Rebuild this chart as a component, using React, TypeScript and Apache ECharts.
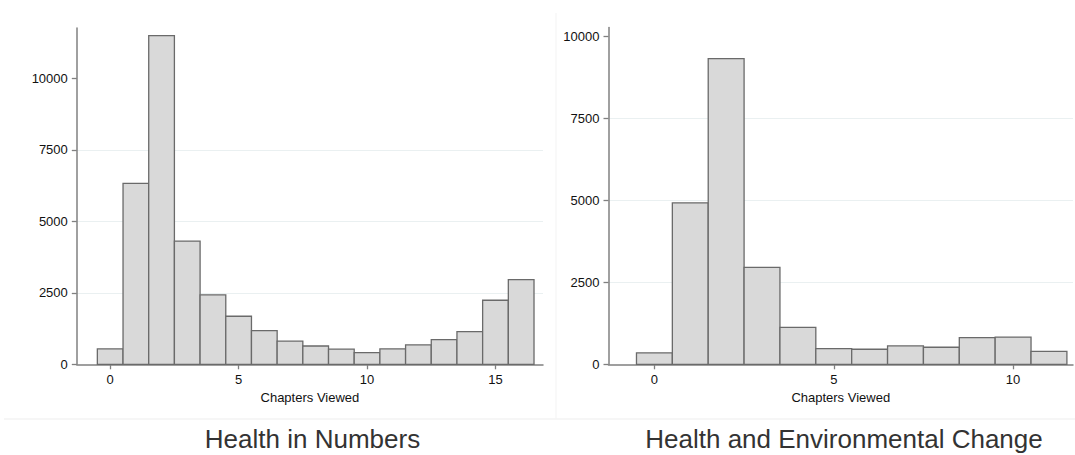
import React, { useEffect, useRef } from "react";
import * as echarts from "echarts";

const leftCategories = [0, 1, 2, 3, 4, 5, 6, 7, 8, 9, 10, 11, 12, 13, 14, 15, 16];
const leftValues = [540, 6330, 11490, 4310, 2430, 1680, 1180, 810, 640, 530, 410, 540, 680, 860, 1140, 2240, 2960];

const rightCategories = [0, 1, 2, 3, 4, 5, 6, 7, 8, 9, 10, 11];
const rightValues = [350, 4930, 9330, 2960, 1130, 480, 460, 560, 520, 815, 830, 397];

const yTicks = [0, 2500, 5000, 7500, 10000];
const leftXTicks = [0, 5, 10, 15];
const rightXTicks = [0, 5, 10];

const titles = ["Health in Numbers", "Health and Environmental Change"];
const xName = "Chapters Viewed";

const AXIS_FONT = "'Liberation Sans', Arial, Helvetica, sans-serif";

function barRender(params: any, api: any) {
  const x = api.value(0);
  const y = api.value(1);
  const p0 = api.coord([x - 0.5, y]);
  const p1 = api.coord([x + 0.5, 0]);
  return {
    type: "rect",
    shape: { x: p0[0], y: p0[1], width: p1[0] - p0[0], height: p1[1] - p0[1] },
    style: { fill: "#d9d9d9", stroke: "#6a6a6a", lineWidth: 1.3 },
  };
}

function makeX(gridIndex: number, min: number, max: number, ticks: number[]) {
  return {
    type: "value",
    gridIndex,
    min,
    max,
    name: xName,
    nameLocation: "middle",
    nameGap: 25,
    nameTextStyle: { fontFamily: AXIS_FONT, fontSize: 13, color: "#111" },
    axisLine: { show: true, onZero: false, lineStyle: { color: "#808080", width: 1.5 } },
    axisTick: { show: true, customValues: ticks, length: 5, lineStyle: { color: "#808080", width: 1.3 } },
    axisLabel: {
      customValues: ticks,
      margin: 9,
      fontFamily: AXIS_FONT,
      fontSize: 13,
      color: "#111",
      formatter: (v: number) => String(v),
    },
    splitLine: { show: false },
  };
}

function makeY(gridIndex: number, max: number) {
  return {
    type: "value",
    gridIndex,
    min: 0,
    max,
    interval: 2500,
    axisLine: { show: true, onZero: false, lineStyle: { color: "#808080", width: 1.5 } },
    axisTick: { show: true, customValues: yTicks, length: 5, lineStyle: { color: "#808080", width: 1.3 } },
    axisLabel: {
      customValues: yTicks,
      margin: 9,
      fontFamily: AXIS_FONT,
      fontSize: 13,
      color: "#111",
      formatter: (v: number) => String(v),
    },
    splitLine: {
      show: true,
      showMinLine: false,
      showMaxLine: false,
      lineStyle: { color: "#eaf0f1", width: 1.2 },
    },
  };
}

export default function App() {
  const ref = useRef<HTMLDivElement>(null);

  useEffect(() => {
    if (!ref.current) return;
    const chart = echarts.init(ref.current, null, { renderer: "svg" });
    const option: any = {
      animation: false,
      backgroundColor: "#ffffff",
      grid: [
        { left: 76.8, top: 28, width: 466.2, height: 336.3 },
        { left: 608.5, top: 27.5, width: 464.5, height: 336.8 },
      ],
      xAxis: [makeX(0, -1.3, 16.85, leftXTicks), makeX(1, -1.28, 11.67, rightXTicks)],
      yAxis: [makeY(0, 11760), makeY(1, 10281)],
      series: [
        {
          type: "custom",
          xAxisIndex: 0,
          yAxisIndex: 0,
          renderItem: barRender,
          data: leftCategories.map((c, i) => [c, leftValues[i]]),
        },
        {
          type: "custom",
          xAxisIndex: 1,
          yAxisIndex: 1,
          renderItem: barRender,
          data: rightCategories.map((c, i) => [c, rightValues[i]]),
        },
      ],
      graphic: [
        {
          type: "line",
          shape: { x1: 556, y1: 13, x2: 556, y2: 419 },
          style: { stroke: "#f3f3f3", lineWidth: 1 },
          silent: true,
        },
        {
          type: "line",
          shape: { x1: 4, y1: 419, x2: 1075, y2: 419 },
          style: { stroke: "#f3f3f3", lineWidth: 1.5 },
          silent: true,
        },
        {
          type: "text",
          x: 312.5,
          y: 439,
          style: {
            text: titles[0],
            align: "center",
            verticalAlign: "middle",
            fontSize: 26,
            fontFamily: AXIS_FONT,
            fill: "#333",
          },
        },
        {
          type: "text",
          x: 844,
          y: 439,
          style: {
            text: titles[1],
            align: "center",
            verticalAlign: "middle",
            fontSize: 26,
            fontFamily: AXIS_FONT,
            fill: "#333",
          },
        },
      ],
    };
    chart.setOption(option);
    return () => chart.dispose();
  }, []);

  return (
    <div
      ref={ref}
      style={{ position: "fixed", left: 0, top: 0, width: 1075, height: 455 }}
    />
  );
}
